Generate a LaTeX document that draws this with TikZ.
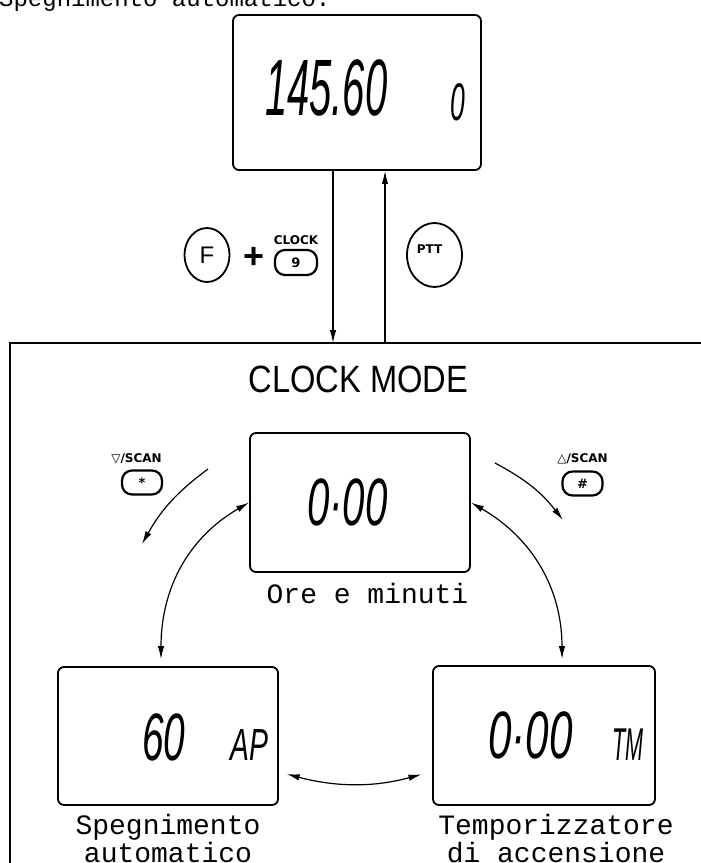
\documentclass[tikz,border=0pt]{standalone}
\usepackage{fontspec}
\setmainfont{Liberation Sans}
\newfontfamily\monofont{Liberation Mono}
\newfontfamily\keyfont{DejaVu Sans}
\usetikzlibrary{arrows.meta, shapes.geometric, positioning}

\begin{document}
\begin{tikzpicture}[
    % one unit = one pixel of the page, y running downwards
    x=1pt,
    y=-1pt,
    >={Latex[length=13pt, width=6.5pt]},
    display/.style={draw, line width=1.8pt, rounded corners=6pt, inner sep=0pt},
    lcd/.style={font=\itshape\fontsize{#1}{#1}\selectfont, inner sep=0pt, anchor=base west},
    caption/.style={font=\monofont\fontsize{28}{28}\selectfont, inner sep=0pt},
    keypad/.style={draw, line width=2.2pt, rounded corners=10pt, minimum width=40pt,
        minimum height=24pt, inner sep=0pt, font=\keyfont\bfseries\fontsize{13}{13}\selectfont},
    keyname/.style={font=\keyfont\bfseries\fontsize{12}{12}\selectfont, inner sep=0pt},
    keyoval/.style={draw, ellipse, line width=1.8pt, inner sep=0pt},
    link/.style={line width=1.2pt}
]
    \useasboundingbox (0,0) rectangle (701,863);

    % --- Text cut by the top edge ---
    \node[font=\monofont\fontsize{24}{24}\selectfont, inner sep=0pt, anchor=base west] (heading)
        at (-1,6) {Spegnimento automatico.};

    % --- Frequency display ---
    \node[display, minimum width=248pt, minimum height=155pt] (freq) at (357,92.5) {};
    \node[lcd=80, xscale=0.5] (freqval) at (265,115) {145.60};
    \node[lcd=53, xscale=0.5] (freqch) at (450,120) {0};

    % --- Keys to enter and leave the mode ---
    \node[keyoval, minimum width=45pt, minimum height=54pt, font=\fontsize{24}{24}\selectfont] (fkey) at (207,255) {F};
    \node[font=\bfseries\fontsize{36}{36}\selectfont, inner sep=0pt] (plus) at (254,258) {+};
    \node[keypad, minimum width=42pt, minimum height=25pt] (clockkey) at (296,262.5) {9};
    \node[keyname] (clocklbl) at (296,240) {CLOCK};
    \node[keyoval, minimum width=55pt, minimum height=64pt] (pttkey) at (434.5,255) {};
    \node[keyname] (pttlbl) at ([xshift=-5pt, yshift=6pt]pttkey.center) {PTT};

    % --- Clock mode frame ---
    \coordinate (frametop) at (10,343);
    \draw[line width=1.8pt] (10,890) -- (frametop) -- (720,343);
    \node[font=\fontsize{38}{38}\selectfont, xscale=0.86, inner sep=0pt, anchor=base] (title)
        at (358.5,392) {CLOCK MODE};

    \draw[link, ->] ([xshift=-24pt]freq.south) -- ([xshift=-24pt]freq.south |- frametop);
    \draw[link, ->] ([xshift=28pt]freq.south |- frametop) -- ([xshift=28pt]freq.south);

    % --- Displays inside the frame ---
    \node[display, minimum width=220pt, minimum height=139pt] (hm) at (360,502.5) {};
    \node[lcd=67, xscale=0.6] (hmval) at (307,525) {0·00};
    \node[caption, anchor=base] (hmcap) at (367.5,603) {Ore e minuti};

    \node[display, minimum width=220pt, minimum height=138pt] (ap) at (168,736) {};
    \node[lcd=67, xscale=0.58] (apval) at (142,760) {60};
    \node[lcd=45, xscale=0.63] (apsym) at (230,760) {AP};
    \node[caption, align=center, anchor=north] (apcap) at (168,814) {Spegnimento\\automatico};

    \node[display, minimum width=222pt, minimum height=139pt] (tm) at (544,735.5) {};
    \node[lcd=67, xscale=0.63] (tmval) at (488,758) {0·00};
    \node[lcd=46, xscale=0.47] (tmsym) at (612,760) {TM};
    \node[caption, align=center, anchor=north] (tmcap) at (556,814) {Temporizzatore\\di accensione};

    % --- Scan keys ---
    \node[keypad] (downkey) at (142,482.5) {\raisebox{-0.25em}{*}};
    \node[keyname] (downlbl) at (136.5,459) {{\mdseries ▽}/SCAN};
    \node[keypad] (upkey) at (582.5,483.5) {\#};
    \node[keyname] (uplbl) at (582.5,459) {{\mdseries △}/SCAN};

    \coordinate (downfrom) at (208,469);
    \coordinate (downto) at (142,544);
    \draw[link, ->] (downfrom) to[bend right=12] (downto);
    \coordinate (upfrom) at (495,463);
    \coordinate (upto) at (563,520);
    \draw[link, ->] (upfrom) to[bend left=12] (upto);

    % --- Cycle between the three displays ---
    \draw[link, <->] (hm.west) to[out=210, in=90] ([xshift=-7pt, yshift=7pt]ap.north);
    \draw[link, <->] (hm.east) to[out=-30, in=90] ([xshift=18pt, yshift=6pt]tm.north);
    \draw[link, <->, shorten <=8pt, shorten >=11pt]
        ([yshift=-36pt]ap.east) to[bend right=15] ([yshift=-36pt]tm.west);

\end{tikzpicture}
\end{document}
